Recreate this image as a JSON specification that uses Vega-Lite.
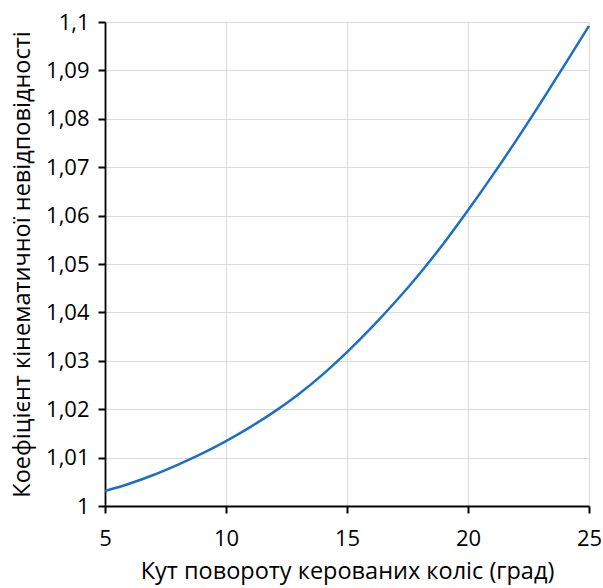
{
  "$schema": "https://vega.github.io/schema/vega-lite/v6.json",
  "width": 484,
  "height": 484,
  "autosize": "none",
  "padding": {"left": 105, "top": 22, "right": 14, "bottom": 82},
  "background": "white",
  "config": {
    "view": {"stroke": null}
  },
  "data": {
    "values": [
      {"angle": 5, "k": 1.0031},
      {"angle": 6, "k": 1.0046},
      {"angle": 7, "k": 1.0064},
      {"angle": 8, "k": 1.0085},
      {"angle": 9, "k": 1.0108},
      {"angle": 10, "k": 1.0134},
      {"angle": 11, "k": 1.0163},
      {"angle": 12, "k": 1.0195},
      {"angle": 13, "k": 1.0231},
      {"angle": 14, "k": 1.0272},
      {"angle": 15, "k": 1.0318},
      {"angle": 16, "k": 1.0368},
      {"angle": 17, "k": 1.0422},
      {"angle": 18, "k": 1.0480},
      {"angle": 19, "k": 1.0543},
      {"angle": 20, "k": 1.0611},
      {"angle": 21, "k": 1.0682},
      {"angle": 22, "k": 1.0756},
      {"angle": 23, "k": 1.0833},
      {"angle": 24, "k": 1.0912},
      {"angle": 25, "k": 1.0992}
    ]
  },
  "mark": {"type": "line", "color": "#1c6fc4", "strokeWidth": 2.5, "interpolate": "monotone"},
  "encoding": {
    "x": {
      "field": "angle",
      "type": "quantitative",
      "scale": {"domain": [5, 25], "nice": false, "zero": false},
      "axis": {
        "values": [5, 10, 15, 20, 25],
        "title": "Кут повороту керованих коліс (град)",
        "titleFont": "Open Sans",
        "titleFontSize": 23.5,
        "titleFontWeight": "normal",
        "titleColor": "#000000",
        "titlePadding": 10,
        "labelFont": "Open Sans",
        "labelFontSize": 22,
        "labelColor": "#000000",
        "labelPadding": 15,
        "labelFlush": false,
        "labelOverlap": false,
        "labelBound": false,
        "ticks": true,
        "tickSize": 7,
        "tickColor": "#000000",
        "tickWidth": 2,
        "domainColor": "#000000",
        "domainWidth": 1.8,
        "gridColor": "#dcdcdc",
        "gridWidth": 1
      }
    },
    "y": {
      "field": "k",
      "type": "quantitative",
      "scale": {"domain": [1, 1.1], "nice": false, "zero": false},
      "axis": {
        "values": [1, 1.01, 1.02, 1.03, 1.04, 1.05, 1.06, 1.07, 1.08, 1.09, 1.1],
        "labelExpr": "replace(format(datum.value, '.2~f'), '.', ',')",
        "title": "Коефіцієнт кінематичної невідповідності",
        "titleFont": "Open Sans",
        "titleFontSize": 23.5,
        "titleFontWeight": "normal",
        "titleColor": "#000000",
        "titlePadding": 11,
        "labelFont": "Open Sans",
        "labelFontSize": 22,
        "labelColor": "#000000",
        "labelPadding": 9,
        "labelFlush": false,
        "labelOverlap": false,
        "labelBound": false,
        "ticks": true,
        "tickSize": 7,
        "tickColor": "#000000",
        "tickWidth": 2,
        "domainColor": "#000000",
        "domainWidth": 1.8,
        "gridColor": "#dcdcdc",
        "gridWidth": 1
      }
    }
  }
}
